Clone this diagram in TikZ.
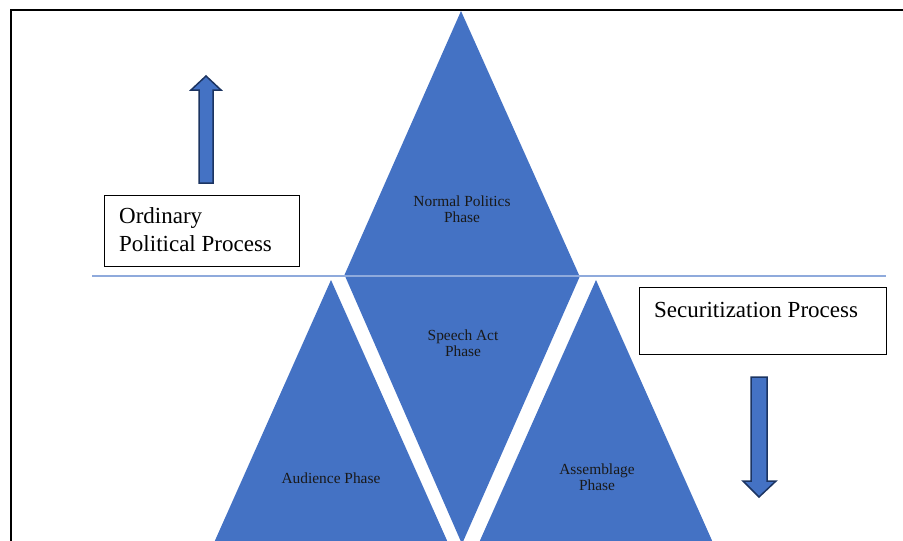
\documentclass[tikz,border=0pt]{standalone}
\usepackage{fontspec}
\setmainfont{Liberation Serif}
\definecolor{phase}{HTML}{4472C4}
\definecolor{arrowedge}{HTML}{1C3461}
\definecolor{divider}{HTML}{8FAADC}
\begin{document}
\begin{tikzpicture}[x=1pt,y=-1pt,
  phasefill/.style={fill=phase,draw=none},
  blockarrow/.style={fill=phase,draw=arrowedge,line width=1.5pt,line join=miter},
  phaselabel/.style={font=\fontsize{15.4}{16}\selectfont,align=center,inner sep=0pt,text=black!90},
  procbox/.style={draw=black,line width=1pt,fill=white,inner sep=0pt,anchor=north west},
  proctext/.style={font=\fontsize{23}{28}\selectfont,align=left,inner sep=0pt,anchor=base west}]
\useasboundingbox (0,0) rectangle (903,541);
\clip (0,0) rectangle (903,541);

% outer frame (only the top and left edges fall inside the page)
\draw[line width=2pt] (11,545) -- (11,9.5) -- (905,9.5);

% phase triangles
\fill[phasefill] (461,11) -- (579.5,276) -- (344,276) -- cycle;
\fill[phasefill] (345,276) -- (580,276) -- (462,544) -- cycle;
\fill[phasefill] (331,280) -- (449,545) -- (213,545) -- cycle;
\fill[phasefill] (596,280) -- (714,545) -- (478,545) -- cycle;

% dividing line between the two processes
\draw[divider,line width=1.5pt] (92,276) -- (886,276);

% phase labels
\node[phaselabel] (normal) at (462,209.5) {Normal Politics\\Phase};
\node[phaselabel] (speech) at (463,343.5) {Speech Act\\Phase};
\node[phaselabel] (audience) at (331,478) {Audience Phase};
\node[phaselabel] (assemblage) at (597,477) {Assemblage\\Phase};

% process boxes
\node[procbox,minimum width=195pt,minimum height=71pt] (ordbox) at (104,195) {};
\node[proctext] (ordtext) at (119,251) {Ordinary\\Political Process};
\node[procbox,minimum width=247pt,minimum height=67pt] (secbox) at (639,287) {};
\node[proctext] (sectext) at (654,317) {Securitization Process};

% block arrows
\draw[blockarrow] (206,76) -- (221,90) -- (213,90) -- (213,183) -- (199,183)
  -- (199,90) -- (191,90) -- cycle;
\draw[blockarrow] (751,377) -- (767,377) -- (767,481) -- (776,481) -- (759,497)
  -- (743,481) -- (751,481) -- cycle;
\end{tikzpicture}
\end{document}
